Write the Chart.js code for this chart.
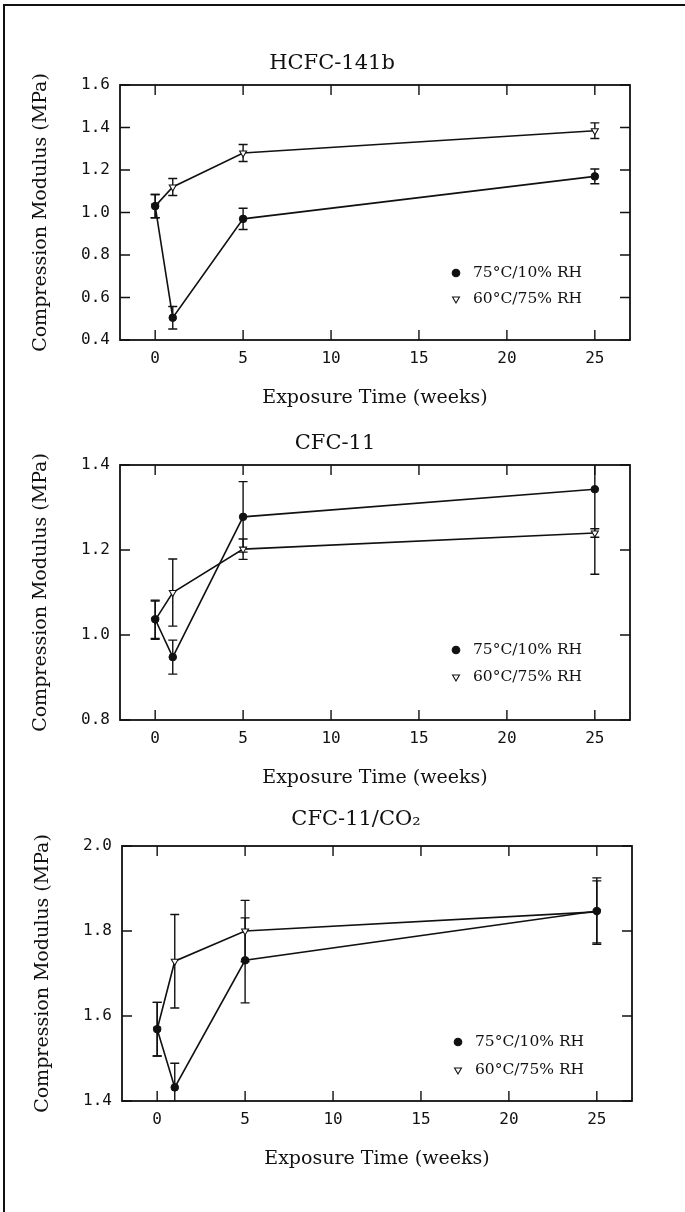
<!DOCTYPE html>
<html>
<head>
<meta charset="utf-8">
<title>Compression Modulus vs Exposure Time</title>
<script src="https://cdn.jsdelivr.net/npm/chart.js@4.4.1/dist/chart.umd.min.js"></script>
<style>
    html, body { margin: 0; padding: 0; background: #fff; }
    body { width: 685px; height: 1212px; position: relative; overflow: hidden; }
    .frame {
        position: absolute; left: 3px; top: 4px; right: 0; bottom: 0;
        border-left: 2px solid #111; border-top: 2px solid #111;
    }
    .panel { position: absolute; left: 0; width: 685px; height: 390px; }
</style>
</head>
<body>
<div class="frame"></div>
<div class="panel" style="top:25px"><canvas id="chartHcfc"></canvas></div>
<div class="panel" style="top:405px"><canvas id="chartCfc"></canvas></div>
<div class="panel" style="top:786px; left:2px"><canvas id="chartCo2"></canvas></div>

<script>
// --- Data ---
const weeks = [0, 1, 5, 25];
const xTicks = [0, 5, 10, 15, 20, 25];
const seriesLabels = ['75°C/10% RH', '60°C/75% RH'];

// HCFC-141b
const hcfcTicks = [0.4, 0.6, 0.8, 1.0, 1.2, 1.4, 1.6];
const hcfcDry = [1.03, 0.505, 0.97, 1.17];
const hcfcDryErr = [0.055, 0.053, 0.05, 0.035];
const hcfcHumid = [1.03, 1.12, 1.28, 1.385];
const hcfcHumidErr = [0.055, 0.04, 0.04, 0.037];

// CFC-11
const cfcTicks = [0.8, 1.0, 1.2, 1.4];
const cfcDry = [1.037, 0.948, 1.278, 1.343];
const cfcDryErr = [0.045, 0.04, 0.083, 0.2];
const cfcHumid = [1.035, 1.1, 1.202, 1.24];
const cfcHumidErr = [0.045, 0.079, 0.024, 0.01];

// CFC-11/CO2
const co2Ticks = [1.4, 1.6, 1.8, 2.0];
const co2Dry = [1.569, 1.432, 1.731, 1.847];
const co2DryErr = [0.063, 0.057, 0.1, 0.078];
const co2Humid = [1.569, 1.729, 1.8, 1.845];
const co2HumidErr = [0.063, 0.11, 0.072, 0.073];

(function() {
    'use strict';

    const INK = '#111';
    const SERIF = '"DejaVu Serif", "Liberation Serif", serif';
    const MONO = '"DejaVu Sans Mono", "Liberation Mono", monospace';

    // layout bits per panel (title offset from plot centre, legend rows above bottom)
    const panels = [
        { id: 'chartHcfc', title: 'HCFC-141b', titleDx: -43, titleUp: 16, yTicks: hcfcTicks,
          dry: hcfcDry, dryErr: hcfcDryErr, humid: hcfcHumid, humidErr: hcfcHumidErr, legendRows: [67, 41] },
        { id: 'chartCfc', title: 'CFC-11', titleDx: -40, titleUp: 16, yTicks: cfcTicks,
          dry: cfcDry, dryErr: cfcDryErr, humid: cfcHumid, humidErr: cfcHumidErr, legendRows: [70, 43] },
        { id: 'chartCo2', title: 'CFC-11/CO₂', titleDx: -21, titleUp: 21, yTicks: co2Ticks,
          dry: co2Dry, dryErr: co2DryErr, humid: co2Humid, humidErr: co2HumidErr, legendRows: [59, 31] }
    ];

    function toPoints(values) {
        return weeks.map((w, i) => ({ x: w, y: values[i] }));
    }

    // --- Plugin: error bars, boxed frame with inward ticks, title, inset legend ---
    const paperPlugin = {
        id: 'paperStyle',
        beforeDatasetsDraw(chart) {
            const ctx = chart.ctx;
            const area = chart.chartArea;
            const yScale = chart.scales.y;
            ctx.save();
            ctx.beginPath();
            ctx.rect(area.left, area.top, area.right - area.left, area.bottom - area.top);
            ctx.clip();
            ctx.strokeStyle = INK;
            ctx.lineWidth = 1.4;
            chart.data.datasets.forEach((ds, i) => {
                const meta = chart.getDatasetMeta(i);
                meta.data.forEach((pt, j) => {
                    const v = ds.data[j].y;
                    const e = ds.errors[j];
                    const yTop = yScale.getPixelForValue(v + e);
                    const yBot = yScale.getPixelForValue(v - e);
                    ctx.beginPath();
                    ctx.moveTo(pt.x, yTop); ctx.lineTo(pt.x, yBot);
                    ctx.moveTo(pt.x - 4.5, yTop); ctx.lineTo(pt.x + 4.5, yTop);
                    ctx.moveTo(pt.x - 4.5, yBot); ctx.lineTo(pt.x + 4.5, yBot);
                    ctx.stroke();
                });
            });
            ctx.restore();
        },
        afterDraw(chart, args, opts) {
            const ctx = chart.ctx;
            const area = chart.chartArea;
            const xScale = chart.scales.x;
            const yScale = chart.scales.y;

            ctx.save();
            ctx.strokeStyle = INK;
            ctx.lineWidth = 1.8;
            ctx.strokeRect(area.left, area.top, area.right - area.left, area.bottom - area.top);

            // inward ticks on all four sides
            ctx.lineWidth = 1.4;
            ctx.beginPath();
            xTicks.forEach(t => {
                const px = xScale.getPixelForValue(t);
                ctx.moveTo(px, area.bottom); ctx.lineTo(px, area.bottom - 10);
                ctx.moveTo(px, area.top); ctx.lineTo(px, area.top + 10);
            });
            opts.yTicks.forEach(t => {
                const py = yScale.getPixelForValue(t);
                ctx.moveTo(area.left, py); ctx.lineTo(area.left + 10, py);
                ctx.moveTo(area.right, py); ctx.lineTo(area.right - 10, py);
            });
            ctx.stroke();

            // title
            ctx.fillStyle = INK;
            ctx.font = '21px ' + SERIF;
            ctx.textAlign = 'center';
            ctx.textBaseline = 'alphabetic';
            ctx.fillText(opts.title, (area.left + area.right) / 2 + opts.titleDx, area.top - opts.titleUp);

            // legend inside lower right
            ctx.font = '15.5px ' + SERIF;
            ctx.textAlign = 'left';
            ctx.textBaseline = 'middle';
            chart.data.datasets.forEach((ds, i) => {
                const ly = area.bottom - opts.legendRows[i];
                ctx.fillStyle = ds.pointBackgroundColor;
                ctx.strokeStyle = INK;
                ctx.lineWidth = 1.1;
                Chart.helpers.drawPoint(ctx, {
                    pointStyle: ds.pointStyle,
                    rotation: ds.pointRotation || 0,
                    radius: ds.pointRadius,
                    borderWidth: 1.1
                }, area.right - 174, ly);
                ctx.fillStyle = INK;
                ctx.fillText(ds.label, area.right - 157, ly);
            });
            ctx.restore();
        }
    };

    function buildChart(panel) {
        const canvas = document.getElementById(panel.id);
        if (!canvas) return;

        const yMin = panel.yTicks[0];
        const yMax = panel.yTicks[panel.yTicks.length - 1];

        new Chart(canvas.getContext('2d'), {
            type: 'line',
            data: {
                datasets: [
                    {
                        label: seriesLabels[0],
                        data: toPoints(panel.dry),
                        errors: panel.dryErr,
                        borderColor: INK,
                        borderWidth: 1.6,
                        pointStyle: 'circle',
                        pointRadius: 3.8,
                        pointBackgroundColor: INK,
                        pointBorderColor: INK,
                        pointBorderWidth: 1,
                        tension: 0
                    },
                    {
                        label: seriesLabels[1],
                        data: toPoints(panel.humid),
                        errors: panel.humidErr,
                        borderColor: INK,
                        borderWidth: 1.6,
                        pointStyle: 'triangle',
                        pointRotation: 180,
                        pointRadius: 4,
                        pointBackgroundColor: '#fff',
                        pointBorderColor: INK,
                        pointBorderWidth: 1.1,
                        tension: 0
                    }
                ]
            },
            options: {
                responsive: true,
                maintainAspectRatio: false,
                animation: false,
                layout: { padding: { top: 60, right: 55, bottom: 0, left: 0 } },
                plugins: {
                    legend: { display: false },
                    tooltip: { enabled: false },
                    title: { display: false },
                    paperStyle: { title: panel.title, titleDx: panel.titleDx, titleUp: panel.titleUp,
                                  yTicks: panel.yTicks, legendRows: panel.legendRows }
                },
                scales: {
                    x: {
                        type: 'linear',
                        min: -2,
                        max: 27,
                        afterBuildTicks: scale => { scale.ticks = xTicks.map(v => ({ value: v })); },
                        afterFit: scale => { scale.height = 75; },
                        grid: { display: false, drawTicks: false },
                        border: { display: false },
                        ticks: {
                            color: INK,
                            padding: 9,
                            font: { family: MONO, size: 16 },
                            callback: v => String(v)
                        },
                        title: {
                            display: true,
                            text: 'Exposure Time (weeks)',
                            color: INK,
                            font: { family: SERIF, size: 19, lineHeight: 1 },
                            padding: { top: 0, bottom: 7.5 }
                        }
                    },
                    y: {
                        type: 'linear',
                        min: yMin,
                        max: yMax,
                        afterBuildTicks: scale => { scale.ticks = panel.yTicks.map(v => ({ value: v })); },
                        afterFit: scale => { scale.width = 120; },
                        grid: { display: false, drawTicks: false },
                        border: { display: false },
                        ticks: {
                            color: INK,
                            padding: 10,
                            font: { family: MONO, size: 16 },
                            callback: v => Number(v).toFixed(1)
                        },
                        title: {
                            display: true,
                            text: 'Compression Modulus (MPa)',
                            color: INK,
                            font: { family: SERIF, size: 19, lineHeight: 1 },
                            padding: { top: 32, bottom: 0 }
                        }
                    }
                }
            },
            plugins: [paperPlugin]
        });
    }

    // --- Run ---
    if (typeof Chart === 'undefined') {
        console.error('Chart.js is not loaded.');
        return;
    }
    panels.forEach(buildChart);
})();
</script>
</body>
</html>
